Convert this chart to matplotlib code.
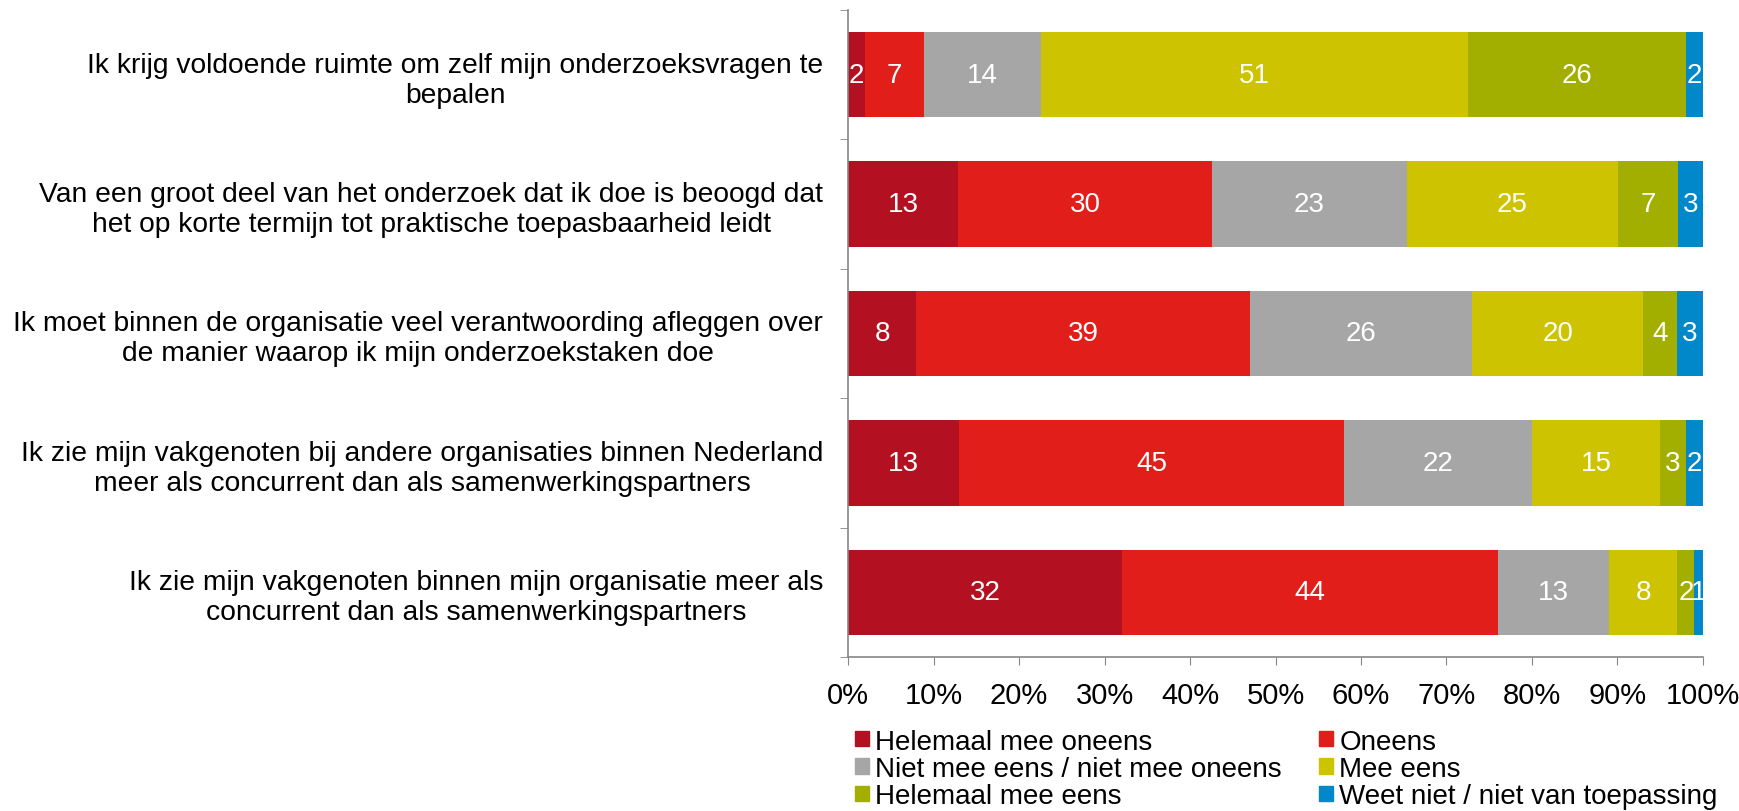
import numpy as np
import matplotlib.pyplot as plt
from matplotlib.patches import Patch

plt.rcParams['font.family'] = ['Liberation Sans', 'DejaVu Sans']

# --- data (top to bottom as shown) ---
statements = [
    "Ik krijg voldoende ruimte om zelf mijn onderzoeksvragen te\nbepalen",
    "Van een groot deel van het onderzoek dat ik doe is beoogd dat\nhet op korte termijn tot praktische toepasbaarheid leidt",
    "Ik moet binnen de organisatie veel verantwoording afleggen over\nde manier waarop ik mijn onderzoekstaken doe",
    "Ik zie mijn vakgenoten bij andere organisaties binnen Nederland\nmeer als concurrent dan als samenwerkingspartners",
    "Ik zie mijn vakgenoten binnen mijn organisatie meer als\nconcurrent dan als samenwerkingspartners",
]
answers = [
    "Helemaal mee oneens",
    "Oneens",
    "Niet mee eens / niet mee oneens",
    "Mee eens",
    "Helemaal mee eens",
    "Weet niet / niet van toepassing",
]
helemaal_oneens = [2, 13, 8, 13, 32]
oneens = [7, 30, 39, 45, 44]
neutraal = [14, 23, 26, 22, 13]
mee_eens = [51, 25, 20, 15, 8]
helemaal_eens = [26, 7, 4, 3, 2]
weet_niet = [2, 3, 3, 2, 1]

colors = ['#B31121', '#E21E1A', '#A6A6A6', '#CDC300', '#A2AE00', '#0088CA']

values = np.array([helemaal_oneens, oneens, neutraal, mee_eens, helemaal_eens, weet_niet], dtype=float)
shares = values / values.sum(axis=0) * 100  # 100% stacked

fig = plt.figure(figsize=(17.4, 8.12), dpi=100)
ax = fig.add_axes([0.4874, 0.1897, 0.4913, 0.7968])

ypos = np.arange(len(statements))
left = np.zeros(len(statements))
for i, ans in enumerate(answers):
    ax.barh(ypos, shares[i], left=left, height=0.66, color=colors[i], label=ans)
    for y, l, w, v in zip(ypos, left, shares[i], values[i]):
        ax.text(l + w / 2, y, f"{int(v)}", ha='center', va='center',
                color='white', fontsize=20)
    left += shares[i]

ax.set_xlim(0, 100)
ax.set_ylim(len(statements) - 0.5, -0.5)
ax.set_xticks(np.arange(0, 101, 10))
ax.set_xticklabels([f"{t}%" for t in range(0, 101, 10)], fontsize=21)
ax.set_yticks(ypos)
ax.set_yticklabels(statements, fontsize=20.3, ha='right', multialignment='center')
ax.tick_params(axis='y', length=0, pad=18)
ax.set_yticks(np.arange(-0.5, len(statements), 1), minor=True)
ax.tick_params(axis='y', which='minor', length=6, color='#868686')
ax.tick_params(axis='x', length=6, color='#868686', pad=11)

for s in ['top', 'right']:
    ax.spines[s].set_visible(False)
for s in ['left', 'bottom']:
    ax.spines[s].set_color('#868686')
    ax.spines[s].set_linewidth(1.2)

# legend filled row by row like the original (matplotlib fills column-wise)
order = [0, 2, 4, 1, 3, 5]
handles = [Patch(color=colors[k]) for k in order]
labels = [answers[k] for k in order]
fig.legend(handles, labels, loc='center left', bbox_to_anchor=(0.4914, 0.0517),
           ncol=2, frameon=False, fontsize=20, handlelength=0.5, handleheight=0.47,
           handletextpad=0.22, labelspacing=0.05, columnspacing=1.35,
           borderpad=0, borderaxespad=0)

fig.savefig('out.png', dpi=100)
